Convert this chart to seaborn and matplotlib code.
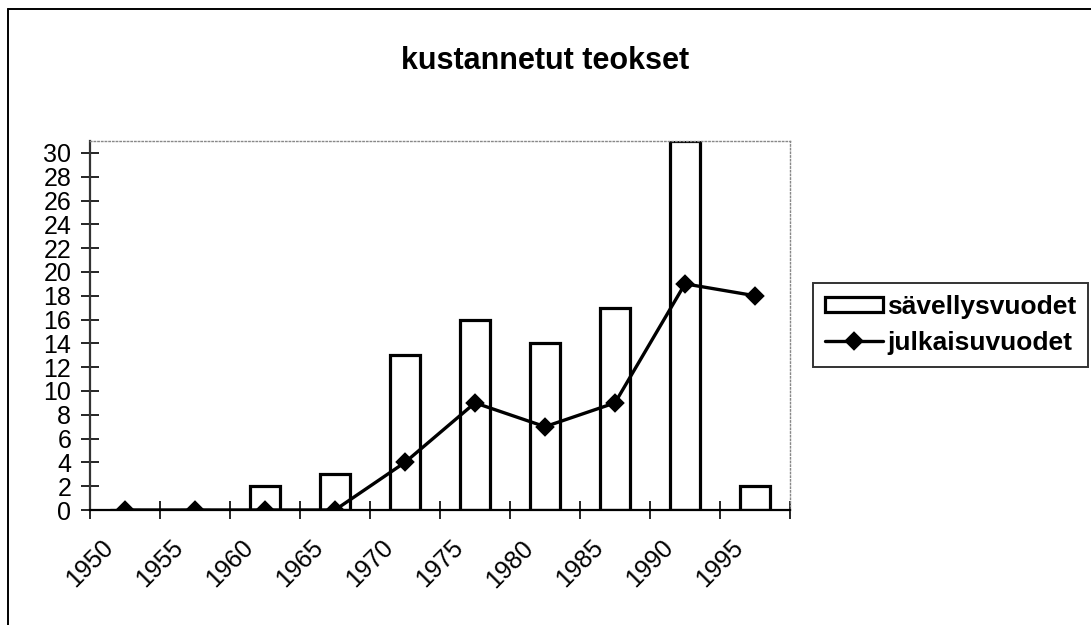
import numpy as np
import pandas as pd
import matplotlib
matplotlib.use('Agg')
import matplotlib.pyplot as plt
from matplotlib.lines import Line2D
import seaborn as sns

# data (one value per 5-year period)
periods = ['1950-54', '1955-59', '1960-64', '1965-69', '1970-74',
           '1975-79', '1980-84', '1985-89', '1990-94', '1995-99']
savellysvuodet = [0, 0, 2, 3, 13, 16, 14, 17, 31, 2]
julkaisuvuodet = [0, 0, 0, 0, 4, 9, 7, 9, 19, 18]
year_ticks = ['1950', '1955', '1960', '1965', '1970', '1975', '1980', '1985', '1990', '1995']
y_ticks = list(range(0, 31, 2))

df = pd.DataFrame({'period': periods,
                   'savellys': savellysvuodet,
                   'julkaisu': julkaisuvuodet})

sns.set_style('white')
plt.rcParams['font.family'] = ['Liberation Sans', 'DejaVu Sans']
plt.rcParams['text.color'] = 'black'
plt.rcParams['xtick.color'] = 'black'
plt.rcParams['ytick.color'] = 'black'

fig = plt.figure(figsize=(10.91, 6.25), dpi=100)
ax = fig.add_axes([90 / 1091, 1 - 510 / 625, 700 / 1091, 369 / 625])

sns.barplot(data=df, x='period', y='savellys', order=periods, color='white',
            saturation=1, edgecolor='black', linewidth=2.3, width=0.43,
            label='sävellysvuodet', legend=False, ax=ax)
sns.pointplot(data=df, x='period', y='julkaisu', order=periods, color='black',
              markers='D', linestyles='-', markersize=8.5, linewidth=2.4,
              label='julkaisuvuodet', legend=False, ax=ax)
if ax.get_legend() is not None:
    ax.get_legend().remove()

ax.set_xlim(-0.5, len(periods) - 0.5)
ax.set_ylim(0, 31)
ax.set_xticks(np.arange(len(periods) + 1) - 0.5)
ax.set_xticklabels(year_ticks + [''], rotation=45, ha='center', fontsize=18)
ax.set_yticks(y_ticks)
ax.set_yticklabels([str(v) for v in y_ticks], fontsize=18)
ax.tick_params(axis='both', direction='inout', length=13, width=1.2, color='black',
               bottom=True, left=True)
ax.tick_params(axis='y', pad=7)
ax.tick_params(axis='x', pad=12)
ax.set_xlabel('')
ax.set_ylabel('')

for side in ['top', 'right']:
    ax.spines[side].set_linestyle(':')
    ax.spines[side].set_color('#888888')
    ax.spines[side].set_linewidth(1.0)
ax.spines['bottom'].set_color('black')
ax.spines['bottom'].set_linewidth(1.6)
ax.spines['left'].set_color('#333333')
ax.spines['left'].set_linewidth(1.6)

fig.suptitle('kustannetut teokset', x=0.5, y=1 - 46 / 625, fontsize=22,
             fontweight='bold', va='top', color='black')

handles, labels = ax.get_legend_handles_labels()
order = [labels.index('sävellysvuodet'), labels.index('julkaisuvuodet')]
leg = fig.legend([handles[i] for i in order], [labels[i] for i in order],
                 loc='upper left', bbox_to_anchor=(813 / 1091, 1 - 283 / 625),
                 fontsize=19, frameon=True, fancybox=False, shadow=False,
                 handlelength=2.2, handleheight=0.55, handletextpad=0.15,
                 borderpad=0.45, labelspacing=0.45, borderaxespad=0)
leg.get_frame().set_edgecolor('black')
leg.get_frame().set_linewidth(1.4)
for t in leg.get_texts():
    t.set_fontweight('bold')

# outer chart frame (left and top edges visible)
fig.add_artist(Line2D([8 / 1091, 8 / 1091], [0, 1 - 9 / 625], color='black', lw=1.4))
fig.add_artist(Line2D([8 / 1091, 1], [1 - 9 / 625, 1 - 9 / 625], color='black', lw=1.4))

fig.savefig('out.png', dpi=100)
